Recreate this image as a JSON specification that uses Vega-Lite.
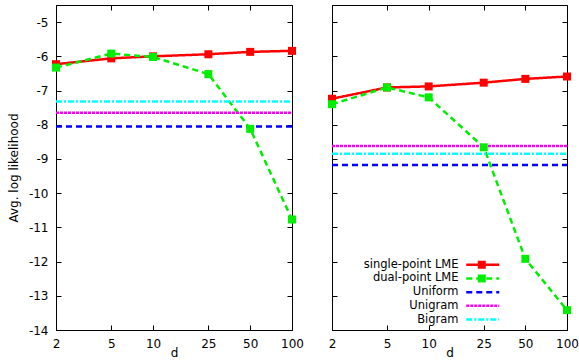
{
  "$schema": "https://vega.github.io/schema/vega-lite/v6.json",
  "padding": {"left": 6, "top": 4, "right": 2, "bottom": 2},
  "config": {
    "font": "DejaVu Sans",
    "view": {"stroke": "#000", "strokeWidth": 1},
    "axis": {"grid": false, "labelFontSize": 12, "titleFontSize": 12, "titleFontWeight": "normal", "labelColor": "#000", "titleColor": "#000", "tickColor": "#000", "domainColor": "#000", "tickSize": -5, "labelPadding": 13, "labelFlush": false}
  },
  "data": {"values": [
    {"panel": "A", "series": "single-point LME", "d": 2, "v": -6.23},
    {"panel": "A", "series": "single-point LME", "d": 5, "v": -6.06},
    {"panel": "A", "series": "single-point LME", "d": 10, "v": -6.0},
    {"panel": "A", "series": "single-point LME", "d": 25, "v": -5.94},
    {"panel": "A", "series": "single-point LME", "d": 50, "v": -5.87},
    {"panel": "A", "series": "single-point LME", "d": 100, "v": -5.84},
    {"panel": "A", "series": "dual-point LME", "d": 2, "v": -6.33},
    {"panel": "A", "series": "dual-point LME", "d": 5, "v": -5.92},
    {"panel": "A", "series": "dual-point LME", "d": 10, "v": -6.02},
    {"panel": "A", "series": "dual-point LME", "d": 25, "v": -6.52},
    {"panel": "A", "series": "dual-point LME", "d": 50, "v": -8.12},
    {"panel": "A", "series": "dual-point LME", "d": 100, "v": -10.77},
    {"panel": "A", "series": "Uniform", "d": 2, "v": -8.05},
    {"panel": "A", "series": "Uniform", "d": 100, "v": -8.05},
    {"panel": "A", "series": "Unigram", "d": 2, "v": -7.65},
    {"panel": "A", "series": "Unigram", "d": 100, "v": -7.65},
    {"panel": "A", "series": "Bigram", "d": 2, "v": -7.32},
    {"panel": "A", "series": "Bigram", "d": 100, "v": -7.32},
    {"panel": "B", "series": "single-point LME", "d": 2, "v": -7.24},
    {"panel": "B", "series": "single-point LME", "d": 5, "v": -6.91},
    {"panel": "B", "series": "single-point LME", "d": 10, "v": -6.88},
    {"panel": "B", "series": "single-point LME", "d": 25, "v": -6.77},
    {"panel": "B", "series": "single-point LME", "d": 50, "v": -6.66},
    {"panel": "B", "series": "single-point LME", "d": 100, "v": -6.59},
    {"panel": "B", "series": "dual-point LME", "d": 2, "v": -7.40},
    {"panel": "B", "series": "dual-point LME", "d": 5, "v": -6.91},
    {"panel": "B", "series": "dual-point LME", "d": 10, "v": -7.20},
    {"panel": "B", "series": "dual-point LME", "d": 25, "v": -8.66},
    {"panel": "B", "series": "dual-point LME", "d": 50, "v": -11.92},
    {"panel": "B", "series": "dual-point LME", "d": 100, "v": -13.42},
    {"panel": "B", "series": "Uniform", "d": 2, "v": -9.18},
    {"panel": "B", "series": "Uniform", "d": 100, "v": -9.18},
    {"panel": "B", "series": "Unigram", "d": 2, "v": -8.62},
    {"panel": "B", "series": "Unigram", "d": 100, "v": -8.62},
    {"panel": "B", "series": "Bigram", "d": 2, "v": -8.85},
    {"panel": "B", "series": "Bigram", "d": 100, "v": -8.85}
  ]},
  "spacing": 40,
  "bounds": "flush",
  "resolve": {
    "scale": {"color": "independent", "strokeDash": "independent", "fill": "independent"},
    "legend": {"color": "independent", "strokeDash": "independent", "fill": "independent"}
  },
  "hconcat": [
    {
      "width": 236, "height": 325,
      "transform": [{"filter": "datum.panel == 'A'"}],
      "layer": [
        {
          "mark": {"type": "line", "strokeWidth": 2.5},
          "encoding": {
            "x": {"field": "d", "type": "quantitative", "scale": {"type": "log", "domain": [2, 100]},
                  "axis": {"orient": "bottom", "values": [2, 5, 10, 25, 50, 100], "labelExpr": "'' + datum.value", "title": "d", "titlePadding": -2}},
            "y": {"field": "v", "type": "quantitative", "scale": {"domain": [-14, -4.5], "nice": false, "zero": false},
                  "axis": {"orient": "left", "values": [-14, -13, -12, -11, -10, -9, -8, -7, -6, -5], "labelExpr": "'' + datum.value", "title": "Avg. log likelihood", "titlePadding": 8}},
            "color": {"field": "series", "type": "nominal",
                      "scale": {"domain": ["single-point LME", "dual-point LME", "Uniform", "Unigram", "Bigram"], "range": ["#ff0000", "#00ee00", "#0000ff", "#ff00ff", "#00ffff"]},
                      "legend": null},
            "strokeDash": {"field": "series", "type": "nominal",
                      "scale": {"domain": ["single-point LME", "dual-point LME", "Uniform", "Unigram", "Bigram"], "range": [[1, 0], [6, 4], [6, 4], [3, 1], [6, 2, 2, 2]]},
                      "legend": null}
          }
        },
        {
          "transform": [{"filter": "datum.series == 'single-point LME' || datum.series == 'dual-point LME'"}],
          "mark": {"type": "square", "size": 64, "opacity": 1},
          "encoding": {
            "x": {"field": "d", "type": "quantitative", "scale": {"type": "log", "domain": [2, 100]},
                  "axis": {"orient": "top", "values": [2, 5, 10, 25, 50, 100], "labels": false, "title": null, "domain": false}},
            "y": {"field": "v", "type": "quantitative", "scale": {"domain": [-14, -4.5], "nice": false, "zero": false},
                  "axis": {"orient": "right", "values": [-14, -13, -12, -11, -10, -9, -8, -7, -6, -5], "labels": false, "title": null, "domain": false}},
            "fill": {"field": "series", "type": "nominal", "scale": {"domain": ["single-point LME", "dual-point LME"], "range": ["#ff0000", "#00ee00"]}, "legend": null}
          }
        }
      ],
      "resolve": {"axis": {"x": "independent", "y": "independent"}}
    },
    {
      "width": 235, "height": 325,
      "transform": [{"filter": "datum.panel == 'B'"}],
      "layer": [
        {
          "mark": {"type": "line", "strokeWidth": 2.5},
          "encoding": {
            "x": {"field": "d", "type": "quantitative", "scale": {"type": "log", "domain": [2, 100]},
                  "axis": {"orient": "bottom", "values": [2, 5, 10, 25, 50, 100], "labelExpr": "'' + datum.value", "title": "d", "titlePadding": -2}},
            "y": {"field": "v", "type": "quantitative", "scale": {"domain": [-14, -4.5], "nice": false, "zero": false},
                  "axis": {"orient": "left", "values": [-14, -13, -12, -11, -10, -9, -8, -7, -6, -5], "labels": false, "title": null}},
            "color": {"field": "series", "type": "nominal",
                      "scale": {"domain": ["single-point LME", "dual-point LME", "Uniform", "Unigram", "Bigram"], "range": ["#ff0000", "#00ee00", "#0000ff", "#ff00ff", "#00ffff"]},
                      "legend": {"orient": "none", "legendX": 145, "legendY": 254, "title": null, "symbolType": "M-5,0H5", "symbolSize": 43.56, "symbolStrokeWidth": 2.5, "labelAlign": "right", "labelOffset": -30, "labelFontSize": 11.5, "labelColor": "#000", "rowPadding": 0.7, "padding": 0, "labelLimit": 300}},
            "strokeDash": {"field": "series", "type": "nominal",
                      "scale": {"domain": ["single-point LME", "dual-point LME", "Uniform", "Unigram", "Bigram"], "range": [[1, 0], [6, 4], [6, 4], [3, 1], [6, 2, 2, 2]]},
                      "legend": {"orient": "none", "legendX": 145, "legendY": 254, "title": null, "symbolType": "M-5,0H5", "symbolSize": 43.56, "symbolStrokeWidth": 2.5, "labelAlign": "right", "labelOffset": -30, "labelFontSize": 11.5, "labelColor": "#000", "rowPadding": 0.7, "padding": 0, "labelLimit": 300}}
          }
        },
        {
          "transform": [{"filter": "datum.series == 'single-point LME' || datum.series == 'dual-point LME'"}],
          "mark": {"type": "square", "size": 64, "opacity": 1},
          "encoding": {
            "x": {"field": "d", "type": "quantitative", "scale": {"type": "log", "domain": [2, 100]},
                  "axis": {"orient": "top", "values": [2, 5, 10, 25, 50, 100], "labels": false, "title": null, "domain": false}},
            "y": {"field": "v", "type": "quantitative", "scale": {"domain": [-14, -4.5], "nice": false, "zero": false},
                  "axis": {"orient": "right", "values": [-14, -13, -12, -11, -10, -9, -8, -7, -6, -5], "labels": false, "title": null, "domain": false}},
            "fill": {"field": "series", "type": "nominal", "scale": {"domain": ["single-point LME", "dual-point LME"], "range": ["#ff0000", "#00ee00"]},
                     "legend": {"orient": "none", "legendX": 144, "legendY": 254, "title": null, "symbolType": "square", "symbolSize": 64, "symbolStrokeWidth": 0, "symbolOpacity": 1, "labelExpr": "''", "labelFontSize": 11.5, "rowPadding": 0.7, "padding": 0}}
          }
        }
      ],
      "resolve": {"axis": {"x": "independent", "y": "independent"}}
    }
  ]
}
